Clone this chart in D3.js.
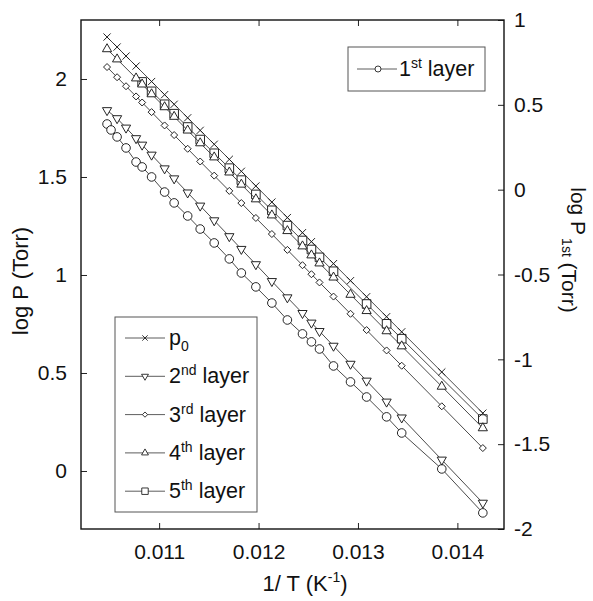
<!DOCTYPE html>
<html><head><meta charset="utf-8">
<script src="https://cdn.jsdelivr.net/npm/d3@7"></script>
<style>
body{margin:0;background:#fff;}
text{font-family:"Liberation Sans",Arial,sans-serif;fill:#111;}
</style></head>
<body><svg id="c" width="593" height="601"></svg>
<script>
// ---------- data ----------
const invT = [0.010476,0.010516,0.010577,0.010667,0.010768,0.010829,0.010924,0.011055,0.011151,0.011287,0.011413,0.011554,0.011706,0.011827,0.011973,0.012134,0.012290,0.012442,0.012532,0.012613,0.012754,0.012925,0.013087,0.013288,0.013440,0.013843,0.014256];
const p0     = [2.214,null,2.163,2.117,2.066,null,1.987,1.920,1.871,1.802,1.738,1.667,1.590,1.529,1.454,1.372,1.293,1.216,1.170,null,1.058,0.971,0.889,0.787,0.710,0.505,0.295];
const layer2 = [1.840,null,1.799,1.751,1.697,1.664,1.613,1.543,1.492,1.420,1.353,1.278,1.197,1.132,1.054,0.968,0.885,0.805,0.756,0.713,0.638,0.546,0.460,0.353,0.272,0.057,-0.163];
const layer3 = [2.061,null,2.009,1.963,1.911,1.880,1.831,1.763,1.714,1.644,1.579,1.507,1.429,1.367,1.291,1.209,1.128,1.050,1.004,0.962,0.890,0.802,0.719,0.615,0.537,0.330,0.117];
const layer4 = [2.153,null,2.101,null,2.004,1.973,1.923,1.857,1.808,1.738,1.673,1.601,1.524,1.462,1.387,1.305,1.225,1.147,1.101,1.060,0.988,0.900,0.817,0.714,0.637,0.431,0.219];
const layer5 = [null,null,null,null,null,1.985,1.937,1.871,1.823,1.755,1.691,1.621,1.545,1.484,1.411,1.330,1.252,1.176,1.130,1.090,1.019,null,0.852,0.751,0.675,null,0.265];
// 1st layer is read on the right-hand axis
const layer1 = [0.387,0.352,0.311,0.246,0.163,0.134,0.075,-0.014,-0.078,-0.155,-0.232,-0.314,-0.408,-0.491,-0.573,-0.668,-0.768,-0.850,-0.897,-0.939,-1.039,-1.133,-1.222,-1.339,-1.434,-1.646,-1.905];

const xTicks = [0.011,0.012,0.013,0.014];
const xTickLabels = ["0.011","0.012","0.013","0.014"];
const yLeftTicks = [0,0.5,1,1.5,2];
const yLeftLabels = ["0","0.5","1","1.5","2"];
const yRightTicks = [-2,-1.5,-1,-0.5,0,0.5,1];
const yRightLabels = ["-2","-1.5","-1","-0.5","0","0.5","1"];

const seriesNames = ["p0","2nd layer","3rd layer","4th layer","5th layer"];
const seriesMarkers = ["x","tridown","diamond","triup","square"];
const seriesValues = [p0, layer2, layer3, layer4, layer5];

// ---------- layout ----------
const L=81, R=504, T=20, B=529;
const svg = d3.select("#c");
const x = d3.scaleLinear().domain([0.010214,0.014469]).range([L,R]);
const yL = d3.scaleLinear().domain([-0.296,2.301]).range([B,T]);
const yR = d3.scaleLinear().domain([-2,1]).range([B,T]);

function markerPath(type, k){
  k = k||1;
  const p = d3.path();
  if(type==="circle"){ const r=4.3*k; p.moveTo(r,0); p.arc(0,0,r,0,2*Math.PI); }
  else if(type==="tridown"){ p.moveTo(-4.6*k,-2.7*k); p.lineTo(4.6*k,-2.7*k); p.lineTo(0,5.3*k); p.closePath(); }
  else if(type==="triup"){ p.moveTo(-4.6*k,2.7*k); p.lineTo(4.6*k,2.7*k); p.lineTo(0,-5.3*k); p.closePath(); }
  else if(type==="square"){ const s=4.3*k; p.rect(-s,-s,2*s,2*s); }
  else if(type==="diamond"){ const s=3.5*k; p.moveTo(0,-s); p.lineTo(s,0); p.lineTo(0,s); p.lineTo(-s,0); p.closePath(); }
  else if(type==="x"){ const s=3.6*k; p.moveTo(-s,-s); p.lineTo(s,s); p.moveTo(-s,s); p.lineTo(s,-s); }
  return p.toString();
}

// axes (ticks inward)
const fs = 21;
const gB = svg.append("g").attr("transform",`translate(0,${B})`)
  .call(d3.axisBottom(x).tickValues(xTicks).tickFormat((d,i)=>xTickLabels[i]).tickSize(-6).tickPadding(15));
const gT = svg.append("g").attr("transform",`translate(0,${T})`)
  .call(d3.axisTop(x).tickValues(xTicks).tickFormat("").tickSize(-6));
const gL = svg.append("g").attr("transform",`translate(${L},0)`)
  .call(d3.axisLeft(yL).tickValues(yLeftTicks).tickFormat((d,i)=>yLeftLabels[i]).tickSize(-6).tickPadding(14));
const gR = svg.append("g").attr("transform",`translate(${R},0)`)
  .call(d3.axisRight(yR).tickValues(yRightTicks).tickFormat((d,i)=>yRightLabels[i]).tickSize(-6).tickPadding(10));
[gB,gT,gL,gR].forEach(g=>{
  g.select(".domain").remove();
  g.selectAll(".tick line").attr("stroke","#222").attr("stroke-width",1);
  g.selectAll(".tick text").attr("font-size",fs).attr("font-family","Liberation Sans, Arial, sans-serif").attr("fill","#111");
});

// frame
svg.append("rect").attr("x",L).attr("y",T).attr("width",R-L).attr("height",B-T)
  .attr("fill","none").attr("stroke","#111").attr("stroke-width",1.4);

// lines + markers
const plot = svg.append("g");
function drawSeries(vals, yScale, type){
  const pts = invT.map((t,i)=>({x:t,y:vals[i]})).filter(d=>d.y!==null);
  plot.append("path").datum(pts)
    .attr("d", d3.line().x(d=>x(d.x)).y(d=>yScale(d.y)))
    .attr("fill","none").attr("stroke","#2a2a2a").attr("stroke-width",0.85);
  plot.selectAll(null).data(pts).enter().append("path")
    .attr("transform",d=>`translate(${x(d.x)},${yScale(d.y)})`)
    .attr("d", markerPath(type))
    .attr("fill", type==="x"?"none":"#fff").attr("stroke","#1a1a1a").attr("stroke-width",0.95);
}
drawSeries(layer1, yR, "circle");
for(let i=seriesValues.length-1;i>=0;i--) drawSeries(seriesValues[i], yL, seriesMarkers[i]);

// axis titles
svg.append("text").attr("transform","translate(28,281) rotate(-90)").attr("text-anchor","middle")
  .attr("font-size",22).text("log P (Torr)");
const rt = svg.append("text").attr("transform","translate(571,250) rotate(90)").attr("text-anchor","middle")
  .attr("font-size",21);
rt.append("tspan").text("log P");
rt.append("tspan").attr("font-size",14).attr("dy",9).attr("dx",3).text("1st");
rt.append("tspan").attr("font-size",21).text(" (Torr)");
const bt = svg.append("text").attr("x",305).attr("y",591).attr("text-anchor","middle").attr("font-size",22);
bt.append("tspan").text("1/ T (K");
bt.append("tspan").attr("font-size",14).attr("dy",-9).text("-1");
bt.append("tspan").attr("dy",9).text(")");

// legend (lower left)
const lg = svg.append("g");
lg.append("rect").attr("x",115).attr("y",317).attr("width",142).attr("height",195)
  .attr("fill","#fff").attr("stroke","#555").attr("stroke-width",1);
const legSup = [["p","0","sub"],["2","nd","sup"],["3","rd","sup"],["4","th","sup"],["5","th","sup"]];
seriesNames.forEach((n,i)=>{
  const yy = 338 + i*38.3;
  lg.append("line").attr("x1",125).attr("x2",165).attr("y1",yy).attr("y2",yy).attr("stroke","#333").attr("stroke-width",0.8);
  lg.append("path").attr("transform",`translate(145,${yy})`).attr("d",markerPath(seriesMarkers[i],0.75))
    .attr("fill",seriesMarkers[i]==="x"?"none":"#fff").attr("stroke","#222").attr("stroke-width",0.9);
  const t = lg.append("text").attr("x",169).attr("y",yy+7).attr("font-size",21.5);
  const s = legSup[i];
  t.append("tspan").text(s[0]);
  if(s[2]==="sub"){ t.append("tspan").attr("font-size",14).attr("dy",6).text(s[1]); }
  else { t.append("tspan").attr("font-size",14).attr("dy",-8).text(s[1]);
         t.append("tspan").attr("dy",8).text(" layer"); }
});

// legend (top right)
const lg1 = svg.append("g");
lg1.append("rect").attr("x",348).attr("y",47).attr("width",137).attr("height",44)
  .attr("fill","#fff").attr("stroke","#555").attr("stroke-width",1);
lg1.append("line").attr("x1",357).attr("x2",397).attr("y1",69).attr("y2",69).attr("stroke","#333").attr("stroke-width",0.8);
lg1.append("path").attr("transform","translate(378,69)").attr("d",markerPath("circle",0.7))
  .attr("fill","#fff").attr("stroke","#222").attr("stroke-width",0.9);
const t1 = lg1.append("text").attr("x",399).attr("y",76).attr("font-size",21.5);
t1.append("tspan").text("1");
t1.append("tspan").attr("font-size",14).attr("dy",-8).text("st");
t1.append("tspan").attr("dy",8).text(" layer");
</script></body></html>
